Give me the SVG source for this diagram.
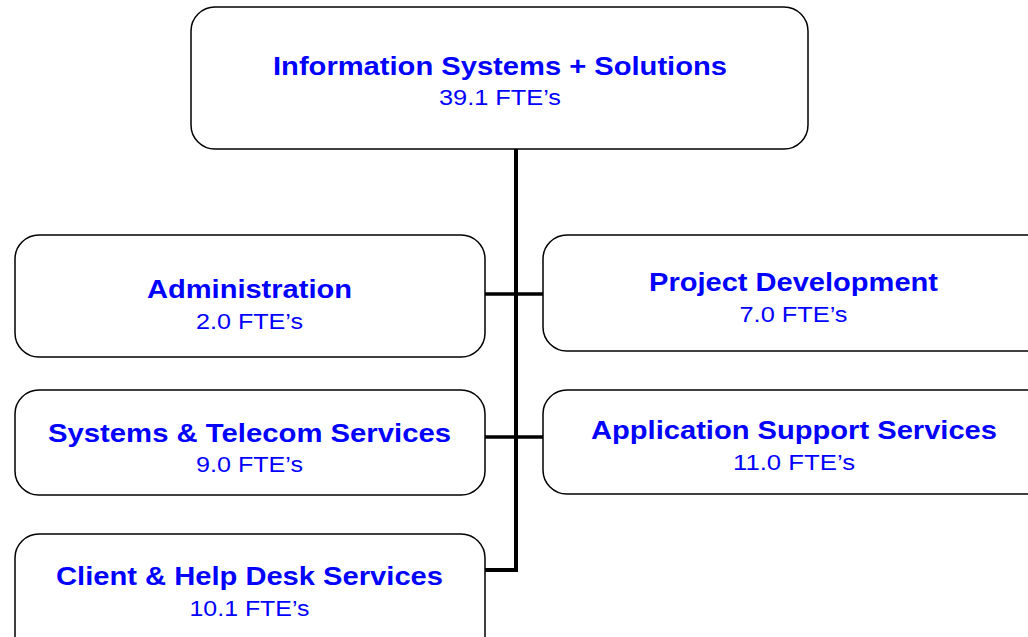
<svg xmlns="http://www.w3.org/2000/svg" width="1028" height="637" viewBox="0 0 1028 637">
  <style>
    .box { fill: #ffffff; stroke: #000000; stroke-width: 1.5; }
    .title { font-family: "Liberation Sans", Arial, sans-serif; font-weight: bold; font-size: 25.5px; fill: #0000ff; text-anchor: middle; }
    .sub { font-family: "Liberation Sans", Arial, sans-serif; font-size: 22px; fill: #0000ff; text-anchor: middle; }
    .link { fill: none; stroke: #000000; stroke-width: 4; }
    .branch { fill: none; stroke: #000000; stroke-width: 3.5; }
  </style>
  <rect width="1028" height="637" fill="#ffffff"/>

  <!-- connectors -->
  <g id="connectors">
    <path class="link" d="M516 149 V570 H485"/>
    <path class="branch" d="M485 294 H543"/>
    <path class="branch" d="M485 437 H543"/>
  </g>

  <g id="node-iss">
    <rect class="box" x="191" y="7" width="617" height="142" rx="24"/>
    <text class="title" x="500" y="74.5" textLength="454" lengthAdjust="spacingAndGlyphs">Information Systems + Solutions</text>
    <text class="sub" x="500" y="105" textLength="122" lengthAdjust="spacingAndGlyphs">39.1 FTE’s</text>
  </g>

  <g id="node-admin">
    <rect class="box" x="15" y="235" width="470" height="122" rx="24"/>
    <text class="title" x="249.5" y="298" textLength="205" lengthAdjust="spacingAndGlyphs">Administration</text>
    <text class="sub" x="249.5" y="328.5" textLength="107" lengthAdjust="spacingAndGlyphs">2.0 FTE’s</text>
  </g>

  <g id="node-projdev">
    <rect class="box" x="543" y="235" width="510" height="116" rx="24"/>
    <text class="title" x="793.5" y="291" textLength="289" lengthAdjust="spacingAndGlyphs">Project Development</text>
    <text class="sub" x="793.5" y="322" textLength="108" lengthAdjust="spacingAndGlyphs">7.0 FTE’s</text>
  </g>

  <g id="node-systems">
    <rect class="box" x="15" y="390" width="470" height="105" rx="24"/>
    <text class="title" x="249.5" y="442" textLength="403" lengthAdjust="spacingAndGlyphs">Systems &amp; Telecom Services</text>
    <text class="sub" x="249.5" y="472" textLength="107" lengthAdjust="spacingAndGlyphs">9.0 FTE’s</text>
  </g>

  <g id="node-appsupport">
    <rect class="box" x="543" y="390" width="510" height="104" rx="24"/>
    <text class="title" x="794" y="438.5" textLength="406" lengthAdjust="spacingAndGlyphs">Application Support Services</text>
    <text class="sub" x="794" y="470" textLength="122" lengthAdjust="spacingAndGlyphs">11.0 FTE’s</text>
  </g>

  <g id="node-client">
    <rect class="box" x="15" y="534" width="470" height="130" rx="24"/>
    <text class="title" x="249.5" y="585" textLength="387" lengthAdjust="spacingAndGlyphs">Client &amp; Help Desk Services</text>
    <text class="sub" x="249.5" y="616" textLength="120" lengthAdjust="spacingAndGlyphs">10.1 FTE’s</text>
  </g>
</svg>
